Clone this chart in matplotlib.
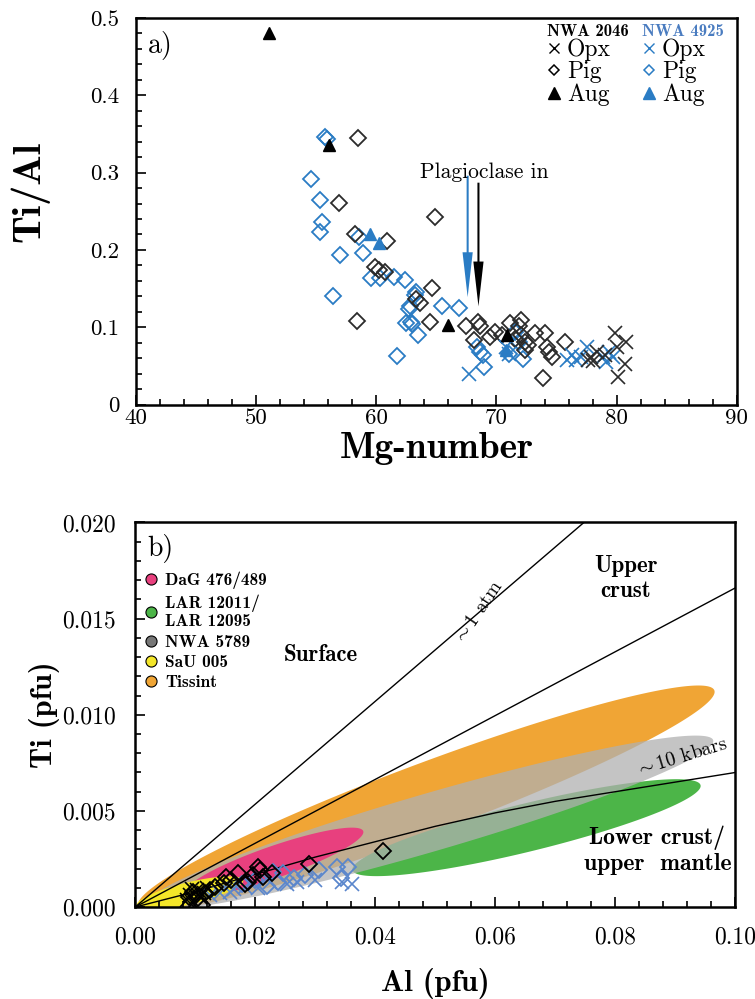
import numpy as np
import matplotlib
matplotlib.use("Agg")
import matplotlib.pyplot as plt
from matplotlib.lines import Line2D
from matplotlib.font_manager import FontProperties
from matplotlib.ticker import MultipleLocator, FuncFormatter

plt.rcParams['font.family'] = ['cmr10', 'DejaVu Serif']
plt.rcParams['mathtext.fontset'] = 'cm'
plt.rcParams['axes.formatter.use_mathtext'] = True

BLUE_A = '#2a7cc4'
BLUE_B = '#5a86cc'
DARK = '#2b2b2b'

# ---- panel a: Ti/Al vs Mg-number ----
opx_2046_mg = [79.9, 80.8, 80.0, 80.7, 80.1, 77.9, 78.4, 78.0, 79.0, 77.6]
opx_2046_ti = [0.093, 0.081, 0.074, 0.052, 0.036, 0.061, 0.068, 0.056, 0.064, 0.058]
pig_2046_mg = [58.5, 56.9, 64.9, 58.2, 60.9, 59.9, 60.2, 60.7, 64.6, 63.3, 63.6, 58.4,
               64.5, 67.5, 68.5, 68.6, 68.1, 69.5, 71.1, 72.0, 71.9, 70.5, 73.2, 74.0,
               74.2, 74.4, 74.6, 75.7, 73.9, 72.4, 72.6, 69.9, 71.5, 72.0, 72.4]
pig_2046_ti = [0.345, 0.261, 0.243, 0.221, 0.212, 0.178, 0.174, 0.172, 0.151, 0.136, 0.132, 0.108,
               0.107, 0.101, 0.107, 0.102, 0.083, 0.087, 0.106, 0.110, 0.101, 0.090, 0.093, 0.093,
               0.074, 0.068, 0.062, 0.081, 0.035, 0.081, 0.077, 0.094, 0.085, 0.090, 0.070]
aug_2046_mg = [51.1, 56.1, 66.0, 70.9]
aug_2046_ti = [0.480, 0.336, 0.103, 0.090]

opx_4925_mg = [67.7, 75.9, 76.6, 77.5, 77.0, 78.9, 79.4, 79.7, 79.1, 76.3, 71.0, 70.8]
opx_4925_ti = [0.039, 0.058, 0.058, 0.075, 0.062, 0.061, 0.068, 0.061, 0.055, 0.064, 0.066, 0.075]
pig_4925_mg = [55.7, 55.9, 54.6, 55.3, 55.5, 55.3, 58.6, 57.0, 58.9, 59.6, 60.3, 61.5, 62.4,
               56.4, 63.3, 62.8, 65.5, 66.9, 63.2, 62.7, 62.5, 62.9, 63.0, 63.5, 61.7, 68.4,
               68.6, 68.9, 69.0, 71.5, 71.9, 72.2, 71.0]
pig_4925_ti = [0.346, 0.343, 0.292, 0.264, 0.236, 0.223, 0.217, 0.193, 0.196, 0.164, 0.164, 0.165, 0.161,
               0.141, 0.145, 0.127, 0.128, 0.125, 0.142, 0.124, 0.106, 0.107, 0.104, 0.090, 0.063, 0.075,
               0.068, 0.064, 0.049, 0.094, 0.081, 0.059, 0.065]
aug_4925_mg = [59.5, 60.2, 70.8]
aug_4925_ti = [0.221, 0.209, 0.070]

# plagioclase-in arrows (x, y_start, y_end)
plag_4925 = [67.6, 0.296, 0.139]
plag_2046 = [68.5, 0.287, 0.127]

# ---- panel b: Ti vs Al (pfu) ----
pig_2046_al = [0.0290, 0.0413, 0.0208, 0.0197, 0.0172, 0.0152, 0.0148, 0.0213, 0.0188, 0.0133,
               0.0117, 0.0105, 0.0090, 0.0112, 0.0097, 0.0160, 0.0183, 0.0125, 0.0205, 0.0228]
pig_2046_tib = [0.00223, 0.00290, 0.00192, 0.00166, 0.00177, 0.00156, 0.00125, 0.00156, 0.00130, 0.00104,
                0.00073, 0.00047, 0.00052, 0.00010, 0.00078, 0.00140, 0.00120, 0.00090, 0.00210, 0.00175]
opx_2046_al = [0.0087, 0.0092, 0.0097, 0.0103, 0.0108, 0.0115, 0.0094, 0.0120]
opx_2046_tib = [0.00036, 0.00062, 0.00020, 0.00088, 0.00055, 0.00075, 0.00095, 0.00100]
pig_4925_al = [0.0230, 0.0247, 0.0283, 0.0307, 0.0337, 0.0355, 0.0343, 0.0238, 0.0265, 0.0200, 0.0178, 0.0220]
pig_4925_tib = [0.00180, 0.00175, 0.00166, 0.00192, 0.00208, 0.00208, 0.00150, 0.00130, 0.00150, 0.00140,
                0.00120, 0.00110]
opx_4925_al = [0.0362, 0.0253, 0.0205, 0.0183, 0.0158, 0.0142, 0.0125, 0.0225, 0.0270, 0.0345, 0.0165, 0.0300]
opx_4925_tib = [0.00120, 0.00120, 0.00100, 0.00104, 0.00078, 0.00073, 0.00062, 0.00130, 0.00130, 0.00130,
                0.00095, 0.00140]

# reference lines
atm_al = [0.0, 0.08]
atm_ti = [0.0, 0.0214]
crust_al = [0.0, 0.10]
crust_ti = [0.0, 0.0166]
kbar_al = [0.0, 0.01, 0.02, 0.03, 0.04, 0.05, 0.06, 0.07, 0.08, 0.09, 0.10]
kbar_ti = [0.0, 0.0008, 0.0017, 0.0026, 0.0034, 0.0042, 0.0049, 0.0055, 0.0060, 0.0065, 0.0070]

# meteorite fields: two tips of each ellipse (Al, Ti) and half-width in pixels
field_names = ['DaG 476/489', 'LAR 12011/\nLAR 12095', 'NWA 5789', 'SaU 005', 'Tissint']
field_colors = ['#e8407e', '#4cb548', '#b0b0b0', '#f4e629', '#f0a535']
field_tip1 = [(0.0083, 0.00073), (0.0362, 0.00192), (0.0017, 0.0001), (0.0002, 0.00005), (0.0005, 0.00005)]
field_tip2 = [(0.0380, 0.00395), (0.0942, 0.00634), (0.0963, 0.00868), (0.0180, 0.00140), (0.0965, 0.01127)]
field_half = [16, 24, 29, 11, 35]


def draw_field(ax, p1, p2, half, **kw):
    a = ax.transData.transform(p1)
    b = ax.transData.transform(p2)
    c = (a + b) / 2
    u = (b - a) / 2
    n = np.array([-u[1], u[0]]) / np.hypot(*u) * half
    t = np.linspace(0, 2 * np.pi, 240)
    pts = c + np.outer(np.cos(t), u) + np.outer(np.sin(t), n)
    d = ax.transData.inverted().transform(pts)
    ax.fill(d[:, 0], d[:, 1], lw=0, **kw)


def style_axes(ax, size, xpad, ypad):
    for s in ax.spines.values():
        s.set_linewidth(1.8)
    ax.tick_params(which='both', direction='in', top=False, right=False, labelsize=size, width=1.2)
    ax.tick_params(which='major', length=7)
    ax.tick_params(which='minor', length=4)
    ax.tick_params(axis='x', which='major', pad=xpad)
    ax.tick_params(axis='y', which='major', pad=ypad)


bold = dict(family='cmb10')

fig = plt.figure(figsize=(7.55, 9.99), dpi=100)
ax1 = fig.add_axes([0.180, 0.595, 0.796, 0.387])
ax2 = fig.add_axes([0.179, 0.092, 0.795, 0.385])

# ---- panel a ----
ax1.set_xlim(40, 90)
ax1.set_ylim(0, 0.5)
ax1.xaxis.set_major_locator(MultipleLocator(10))
ax1.xaxis.set_minor_locator(MultipleLocator(2))
ax1.yaxis.set_major_locator(MultipleLocator(0.1))
ax1.yaxis.set_minor_locator(MultipleLocator(0.02))
ax1.yaxis.set_major_formatter(FuncFormatter(lambda v, p: '0' if abs(v) < 1e-9 else f'{v:.1f}'))
ax1.xaxis.set_major_formatter(FuncFormatter(lambda v, p: f'{v:.0f}'))
style_axes(ax1, 16.5, 3, 12)

ms_d, ms_x, ms_t = 8, 10, 9
ax1.plot(pig_4925_mg, pig_4925_ti, 'D', ms=ms_d, mfc='none', mec=BLUE_A, mew=1.3, ls='none')
ax1.plot(pig_2046_mg, pig_2046_ti, 'D', ms=ms_d, mfc='none', mec=DARK, mew=1.3, ls='none')
ax1.plot(opx_4925_mg, opx_4925_ti, 'x', ms=ms_x, mec=BLUE_A, mew=1.2, ls='none')
ax1.plot(opx_2046_mg, opx_2046_ti, 'x', ms=ms_x, mec=DARK, mew=1.2, ls='none')
ax1.plot(aug_2046_mg, aug_2046_ti, '^', ms=ms_t, color='black', ls='none')
ax1.plot(aug_4925_mg, aug_4925_ti, '^', ms=ms_t, color=BLUE_A, ls='none')

for arr, col in [(plag_4925, BLUE_A), (plag_2046, 'black')]:
    x, y0, y1 = arr
    ax1.arrow(x, y0, 0, y1 - y0, width=0.17, head_width=0.85, head_length=0.058,
              length_includes_head=True, color=col, lw=0)
ax1.text(69.0, 0.300, 'Plagioclase in', ha='center', va='center', fontsize=15.5)
ax1.text(0.02, 0.93, 'a)', transform=ax1.transAxes, fontsize=20, va='center')

ax1.set_xlabel('Mg-number', fontsize=27, **bold)
ax1.xaxis.set_label_coords(0.5, -0.07)
ax1.set_ylabel('Ti/Al', fontsize=29, **bold)
ax1.yaxis.set_label_coords(-0.143, 0.55)

title_fp = FontProperties(family='cmb10', size=12)
h_2046 = [Line2D([], [], marker='x', color='black', ls='none', ms=7, mew=1),
          Line2D([], [], marker='D', mfc='none', mec='black', ls='none', ms=5.5, mew=1.1),
          Line2D([], [], marker='^', color='black', ls='none', ms=8)]
h_4925 = [Line2D([], [], marker='x', color=BLUE_A, ls='none', ms=7, mew=1),
          Line2D([], [], marker='D', mfc='none', mec=BLUE_A, ls='none', ms=5.5, mew=1.1),
          Line2D([], [], marker='^', color=BLUE_A, ls='none', ms=8)]
labels = ['Opx', 'Pig', 'Aug']
leg_kw = dict(frameon=False, fontsize=17, handlelength=0.6, handletextpad=0.25,
              labelspacing=0.0, borderpad=0, borderaxespad=0, alignment='left',
              title_fontproperties=title_fp, loc='upper left')
leg1 = ax1.legend(h_2046, labels, title='NWA 2046', bbox_to_anchor=(0.684, 0.985), **leg_kw)
ax1.add_artist(leg1)
leg2 = ax1.legend(h_4925, labels, title='NWA 4925', bbox_to_anchor=(0.842, 0.985), **leg_kw)
leg2.get_title().set_color('#4a7cc0')

# ---- panel b ----
ax2.set_xlim(0, 0.10)
ax2.set_ylim(0, 0.020)
ax2.xaxis.set_major_locator(MultipleLocator(0.02))
ax2.xaxis.set_minor_locator(MultipleLocator(0.004))
ax2.yaxis.set_major_locator(MultipleLocator(0.005))
ax2.yaxis.set_minor_locator(MultipleLocator(0.001))
ax2.xaxis.set_major_formatter(FuncFormatter(lambda v, p: f'{v:.2f}'))
ax2.yaxis.set_major_formatter(FuncFormatter(lambda v, p: f'{v:.3f}'))
style_axes(ax2, 17, 14, 14)

# orange, green, gray (translucent), pink, yellow
for i in [4, 1, 2, 0, 3]:
    alpha = 0.75 if i == 2 else 1.0
    draw_field(ax2, field_tip1[i], field_tip2[i], field_half[i], color=field_colors[i], alpha=alpha, zorder=1)

ax2.plot(atm_al, atm_ti, color='black', lw=1.0, zorder=2)
ax2.plot(crust_al, crust_ti, color='black', lw=1.0, zorder=2)
ax2.plot(kbar_al, kbar_ti, color='black', lw=1.0, zorder=2)

ax2.plot(pig_4925_al, pig_4925_tib, 'D', ms=ms_d, mfc='none', mec=BLUE_B, mew=1.3, ls='none', zorder=3)
ax2.plot(opx_4925_al, opx_4925_tib, 'x', ms=ms_x, mec=BLUE_B, mew=1.2, ls='none', zorder=3)
ax2.plot(pig_2046_al, pig_2046_tib, 'D', ms=ms_d, mfc='none', mec='black', mew=1.3, ls='none', zorder=3)
ax2.plot(opx_2046_al, opx_2046_tib, 'x', ms=ms_x, mec='black', mew=1.2, ls='none', zorder=3)

legend_fill = list(field_colors)
legend_fill[2] = '#777777'
fh = [Line2D([], [], marker='o', ls='none', mfc=c, mec='black', mew=0.8, ms=8) for c in legend_fill]
ax2.legend(fh, field_names, loc='upper left', bbox_to_anchor=(0.015, 0.872), frameon=False,
           prop=FontProperties(family='cmb10', size=12.5), handlelength=0.8, handletextpad=0.4,
           labelspacing=0.3, borderpad=0, borderaxespad=0)

ax2.text(0.02, 0.932, 'b)', transform=ax2.transAxes, fontsize=20, va='center')
ax2.text(0.031, 0.0131, 'Surface', ha='center', va='center', fontsize=16.5, **bold)
ax2.text(0.0817, 0.0171, 'Upper\ncrust', ha='center', va='center', fontsize=16.5, linespacing=1.2, **bold)
ax2.text(0.087, 0.00296, 'Lower crust/\nupper  mantle', ha='center', va='center', fontsize=17,
         linespacing=1.2, **bold)
ax2.text(0.0572, 0.0153, r'$\sim$1 atm', ha='center', va='center', fontsize=14, rotation=56)
ax2.text(0.0910, 0.0078, r'$\sim$10 kbars', ha='center', va='center', fontsize=14, rotation=17)

ax2.set_xlabel('Al (pfu)', fontsize=22, **bold)
ax2.xaxis.set_label_coords(0.5, -0.158)
ax2.set_ylabel('Ti (pfu)', fontsize=22, **bold)
ax2.yaxis.set_label_coords(-0.125, 0.5)

fig.savefig('out.png', dpi=100)
